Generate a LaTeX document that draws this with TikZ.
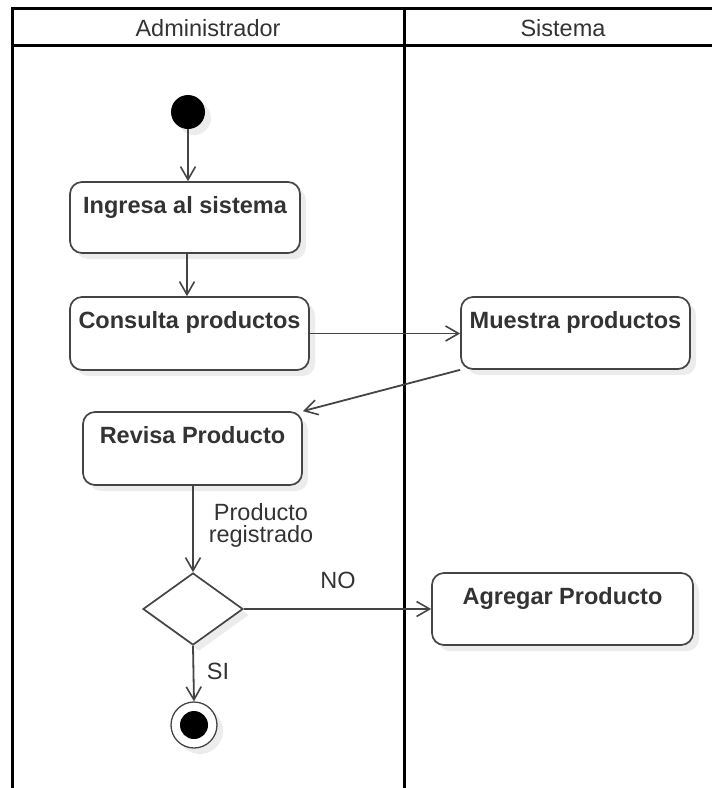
\documentclass[tikz,border=0pt]{standalone}
\usepackage{fontspec}
\setmainfont{Liberation Sans}
\usetikzlibrary{arrows.meta,shapes.geometric,shadows}
\definecolor{ln}{HTML}{444444}
\definecolor{tx}{HTML}{333333}
\tikzset{
  lbl/.style={font=\fontsize{23.5}{22}\selectfont, text=tx, inner sep=0pt, align=center},
  act/.style={draw=ln, line width=1.7pt, rounded corners=12pt, fill=white,
    inner xsep=0pt, inner ysep=0pt, font=\fontsize{23.5}{27}\selectfont\bfseries, text=tx,
    text height=31pt, drop shadow={opacity=0.15, shadow xshift=6pt, shadow yshift=-6pt}},
  flow/.style={draw=ln, line width=1.8pt, -{Straight Barb[length=13pt,width=15pt,line width=1.6pt]}},
  lane/.style={line width=3pt, black, line join=miter},
  shad/.style={drop shadow={opacity=0.15, shadow xshift=6pt, shadow yshift=-6pt}},
}
\begin{document}
\begin{tikzpicture}[x=1pt,y=-1pt]
\useasboundingbox (0,0) rectangle (712,788);
% lanes
\draw[lane] (12,788) -- (12,8) -- (712,8);
\draw[lane] (12,45) -- (712,45);
\draw[lane] (404,8) -- (404,788);
\node[lbl] (hadm) at (208,28) {Administrador};
\node[lbl] (hsis) at (563,28) {Sistema};
% nodes
\node[circle, fill=black, minimum size=34pt, inner sep=0pt, shad] (start) at (188,112) {};
\node[act, minimum width=230pt, text depth=40pt] (ing) at (185,217.5) {Ingresa al sistema};
\node[act, minimum width=239pt, text depth=42pt] (con) at (189.5,333.5) {Consulta productos};
\node[act, minimum width=229pt, text depth=41pt] (mue) at (575.5,333) {Muestra productos};
\node[act, minimum width=219pt, text depth=42pt] (rev) at (192.5,448.5) {Revisa Producto};
\node[diamond, draw=ln, line width=1.7pt, fill=white, minimum width=100pt, minimum height=72pt, inner sep=0pt, shad] (dec) at (193,609) {};
\node[act, minimum width=261pt, text depth=41pt] (agr) at (562.5,609) {Agregar Producto};
\node[circle, draw=ln, line width=1.3pt, fill=white, minimum size=46pt, inner sep=0pt, shad] (end) at (194,725) {};
\node[circle, fill=black, minimum size=28pt, inner sep=0pt] (endin) at (end.center) {};
% edges
\draw[flow] (start) -- (start |- ing.north);
\draw[flow] ([xshift=2pt]ing.south) -- ([xshift=2pt]ing.south |- con.north);
\draw[flow] (con.east) -- (con.east -| mue.west);
\draw[flow] (mue.south west) -- (rev.north east);
\draw[flow] (dec.north |- rev.south) -- (dec.north);
\draw[flow] (dec.east) -- (dec.east -| agr.west);
\draw[flow] (dec.south) -- (end.north);
% labels
\node[lbl] (lreg) at (261,525) {Producto\\registrado};
\node[lbl] (lno) at (338,580) {NO};
\node[lbl] (lsi) at (218,671) {SI};
\end{tikzpicture}
\end{document}
